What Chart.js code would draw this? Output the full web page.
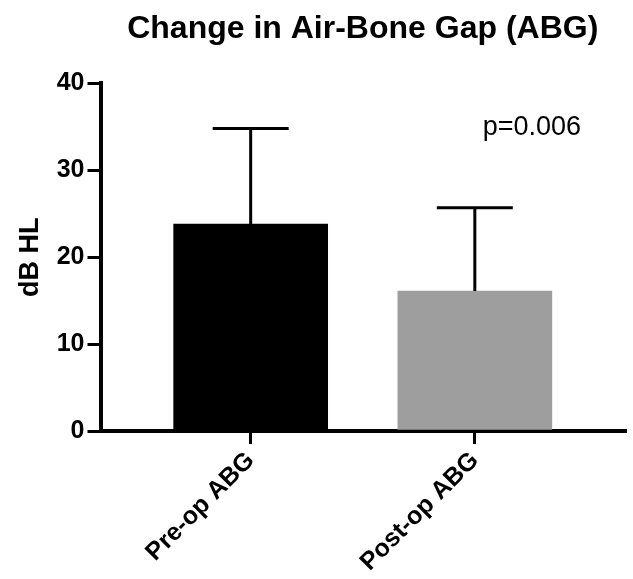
<!DOCTYPE html>
<html>
<head>
<meta charset="utf-8">
<script src="https://cdn.jsdelivr.net/npm/chart.js@4"></script>
<style>
  html, body { margin: 0; padding: 0; background: #fff; }
  #wrap { width: 633px; height: 579px; }
</style>
</head>
<body>
<div id="wrap"><canvas id="chart" width="633" height="579"></canvas></div>
<script>
const categories = ["Pre-op ABG", "Post-op ABG"];
const means = [23.8, 16.1];
const errUpper = [11.0, 9.6];
const yTicks = [0, 10, 20, 30, 40];
const pLabel = "p=0.006";

const FONT = "Helvetica, Arial, 'Liberation Sans', sans-serif";

const errorBars = {
  id: "errorBars",
  afterDatasetsDraw(chart) {
    const { ctx, scales: { x, y } } = chart;
    const meta = chart.getDatasetMeta(0);
    ctx.save();
    ctx.strokeStyle = "#000";
    ctx.lineWidth = 3;
    meta.data.forEach((bar, i) => {
      const top = y.getPixelForValue(means[i] + errUpper[i]);
      const base = y.getPixelForValue(means[i]);
      ctx.beginPath();
      ctx.moveTo(bar.x, base);
      ctx.lineTo(bar.x, top);
      ctx.moveTo(bar.x - 38, top);
      ctx.lineTo(bar.x + 38, top);
      ctx.stroke();
    });
    // significance label
    ctx.fillStyle = "#000";
    ctx.font = `27px ${FONT}`;
    ctx.textAlign = "left";
    ctx.textBaseline = "alphabetic";
    ctx.fillText(pLabel, x.getPixelForValue(1.035), y.getPixelForValue(34.1));
    ctx.restore();
  }
};

new Chart(document.getElementById("chart"), {
  type: "bar",
  data: {
    datasets: [{
      data: means.map((v, i) => ({ x: i, y: v })),
      backgroundColor: ["#000000", "#9e9e9e"],
      borderWidth: 0,
      barThickness: 154
    }]
  },
  options: {
    responsive: false,
    animation: false,
    layout: { padding: { left: 0, right: 8, top: 0, bottom: 0 } },
    plugins: {
      legend: { display: false },
      tooltip: { enabled: false },
      title: {
        display: true,
        fullSize: false,
        text: "Change in Air-Bone Gap (ABG)",
        color: "#000",
        font: { family: FONT, size: 32, weight: "bold" },
        padding: { top: 10, bottom: 35 }
      }
    },
    scales: {
      x: {
        type: "linear",
        min: -0.67,
        max: 1.67,
        offset: false,
        z: 1,
        afterBuildTicks: s => { s.ticks = categories.map((c, i) => ({ value: i })); },
        afterFit: s => { s.height = 148; },
        ticks: {
          color: "#000",
          font: { family: FONT, size: 25, weight: "bold" },
          minRotation: 45,
          maxRotation: 45,
          padding: 2,
          callback: v => categories[v]
        },
        grid: { offset: false, drawOnChartArea: false, drawTicks: true, tickLength: 13, lineWidth: 3, color: "#000" },
        border: { color: "#000", width: 4 }
      },
      y: {
        min: 0,
        max: 40,
        z: 1,
        afterBuildTicks: s => { s.ticks = yTicks.map(v => ({ value: v })); },
        afterFit: s => { s.width = 100.5; },
        ticks: {
          color: "#000",
          font: { family: FONT, size: 25, weight: "bold" },
          padding: 3
        },
        title: {
          display: true,
          text: "dB HL",
          color: "#000",
          font: { family: FONT, size: 27, weight: "bold" },
          padding: { top: 14, bottom: 0 }
        },
        grid: { drawOnChartArea: false, drawTicks: true, tickLength: 13, lineWidth: 3, color: "#000" },
        border: { color: "#000", width: 4 }
      }
    }
  },
  plugins: [errorBars]
});
</script>
</body>
</html>
